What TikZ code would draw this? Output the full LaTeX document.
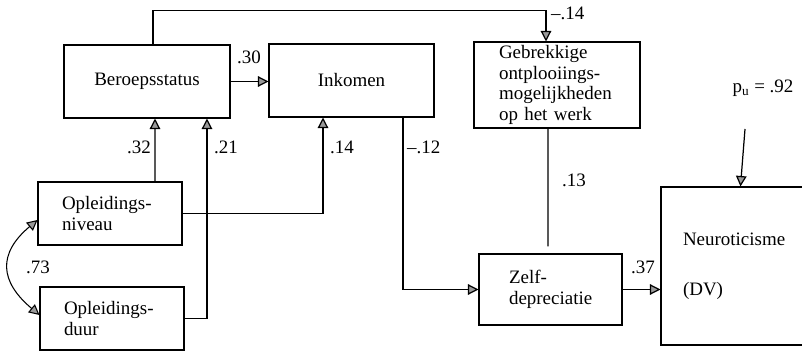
\documentclass[tikz,border=0pt]{standalone}
\usepackage{fontspec}
\setmainfont{Liberation Serif}
\usetikzlibrary{arrows.meta, positioning}
\hyphenpenalty=10000
\tikzset{
  vak/.style={rectangle,draw,line width=0.6pt,align=center,inner ysep=0pt},
  pijl/.style={-{Triangle[length=2.1mm,width=2.1mm,fill=gray!80]},line width=0.7pt},
  dpijl/.style={{Triangle[length=2.1mm,width=2.1mm,fill=gray!80]}-{Triangle[length=2.1mm,width=2.1mm,fill=gray!80]},line width=0.6pt},
  lijn/.style={line width=0.7pt},
  coef/.style={inner sep=1pt},
}

\begin{document}
\begin{tikzpicture}[x=0.02cm, y=-0.02cm, font=\fontsize{10.8}{11.6}\selectfont]
  \useasboundingbox (0,0) rectangle (802,351);
  \clip (0,0) rectangle (802,351);
  \node[vak,text width=2.92cm,inner xsep=0.2cm,minimum height=1.46cm] (bs) at (147,81.5) {Beroepsstatus};
  \node[vak,text width=2.90cm,inner xsep=0.2cm,minimum height=1.46cm] (ink) at (351.5,80.5) {Inkomen};
  \node[vak,align=left,text width=2.32cm,inner xsep=0.5cm,minimum height=1.72cm] (geb) at (557,85)
    {Gebrekkige\\ontplooiings-\\mogelijkheden\\op het werk};
  \node[vak,align=left,text width=1.66cm,inner xsep=0.6cm,minimum height=1.42cm] (zelf) at (550.5,289.5)
    {Zelf-\\depreciatie};
  \node[vak,align=left,text width=2.70cm,inner xsep=0.44cm,minimum height=3.16cm] (neu) at (750.5,266)
    {Neuroticisme\\[0.6cm](DV)};
  \node[vak,align=left,text width=1.92cm,inner xsep=0.48cm,minimum height=1.26cm] (oniv) at (110,213.5)
    {Opleidings-\\niveau};
  \node[vak,align=left,text width=1.92cm,inner xsep=0.48cm,minimum height=1.26cm] (oduur) at (112,318.5)
    {Opleidings-\\duur};
  \node (pu) at (763,88) {p\textsubscript{u} = .92};
  \coordinate (pustart) at (745,129);

  \draw[pijl] (bs.east) -- (bs.east -| ink.west);
  \node[coef] at (249,57) {.30};
  \draw[pijl] ([xshift=0.12cm]bs.north) -- ++(0,-34) -| ([xshift=-0.22cm]geb.north);
  \node[coef,anchor=west] at (549,13) {--.14};
  \draw[lijn,shorten >=0.14cm] ([xshift=-0.18cm]geb.south) -- ([xshift=-0.05cm]zelf.north);
  \node[coef] at (574,180) {.13};
  \draw[pijl] ([xshift=1.03cm]ink.south) |- (zelf.west);
  \node[coef,anchor=west] at (405,147) {--.12};
  \draw[pijl] (zelf.east) -- (zelf.east -| neu.west);
  \node[coef] at (643,267) {.37};
  \draw[pijl] (pustart) -- ([xshift=1.6cm]neu.north west);
  \draw[pijl] ([xshift=0.9cm]oniv.north) -- ([xshift=0.16cm]bs.south);
  \node[coef] at (139,147) {.32};
  \draw[pijl] (oniv.east) -| ([xshift=-0.57cm]ink.south);
  \node[coef] at (342,147) {.14};
  \draw[pijl] (oduur.east) -| ([xshift=1.2cm]bs.south);
  \node[coef] at (226,147) {.21};
  \draw[dpijl] ([yshift=-0.13cm]oniv.west) to[out=220,in=140,looseness=1.4] ([yshift=0.07cm]oduur.west);
  \node[coef] at (38,267) {.73};
\end{tikzpicture}
\end{document}
